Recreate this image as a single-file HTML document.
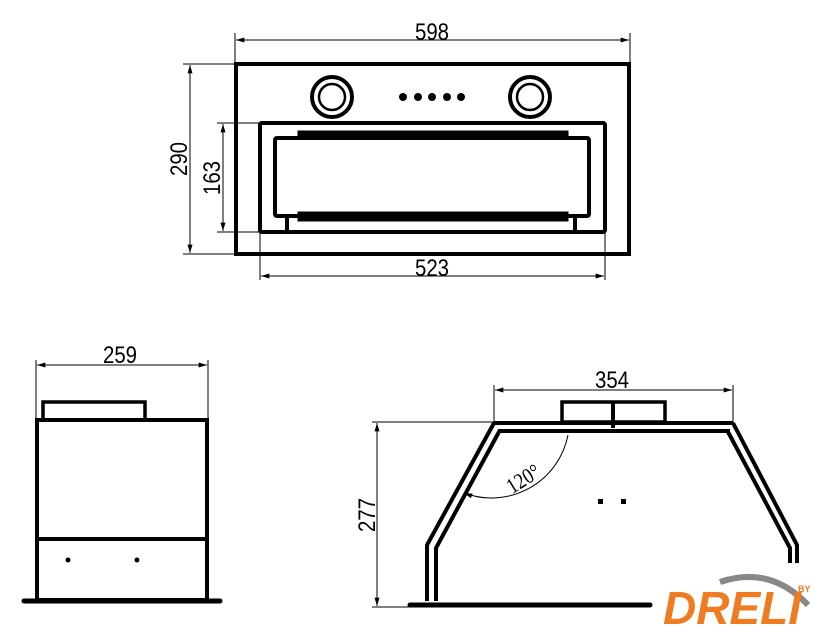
<!DOCTYPE html>
<html><head><style>
html,body{margin:0;padding:0;background:#fff;}
svg{display:block;}
text{font-family:"Liberation Sans",sans-serif;fill:#000;}
</style></head><body>
<svg width="840" height="638" viewBox="0 0 840 638" xmlns="http://www.w3.org/2000/svg">
<defs>
<marker id="a" viewBox="0 0 10 6" refX="10" refY="3" markerWidth="12" markerHeight="5" orient="auto-start-reverse" markerUnits="userSpaceOnUse"><path d="M0,0 L10,3 L0,6 z" fill="#000"/></marker>
</defs>
<g stroke="#000" fill="none">
<rect x="236" y="64" width="393" height="190" stroke-width="4"/>
<circle cx="332" cy="97" r="20" stroke-width="4"/><circle cx="332" cy="97" r="13" stroke-width="2.5"/>
<circle cx="530" cy="97" r="20" stroke-width="4"/><circle cx="530" cy="97" r="13" stroke-width="2.5"/>
<rect x="260" y="123" width="345" height="109" rx="2" stroke-width="4"/>
<rect x="275" y="138" width="314" height="78" rx="2" stroke-width="4"/>
<rect x="298" y="131" width="270" height="6" fill="#000" stroke-width="1"/>
<rect x="298" y="212" width="270" height="9" fill="#000" stroke-width="1"/>
<line x1="287" y1="216" x2="287" y2="230" stroke-width="4"/><line x1="575" y1="216" x2="575" y2="230" stroke-width="4"/>
<g stroke-width="1">
<line x1="235" y1="33" x2="235" y2="63"/><line x1="630" y1="33" x2="630" y2="63"/>
<line x1="236" y1="40" x2="629" y2="40" marker-start="url(#a)" marker-end="url(#a)"/>
<line x1="183" y1="64" x2="236" y2="64"/><line x1="183" y1="254" x2="236" y2="254"/>
<line x1="190" y1="65" x2="190" y2="253" marker-start="url(#a)" marker-end="url(#a)"/>
<line x1="217" y1="123" x2="260" y2="123"/><line x1="217" y1="232" x2="260" y2="232"/>
<line x1="223" y1="124" x2="223" y2="231" marker-start="url(#a)" marker-end="url(#a)"/>
<line x1="260" y1="233" x2="260" y2="280"/><line x1="605" y1="233" x2="605" y2="280"/>
<line x1="261" y1="276" x2="604" y2="276" marker-start="url(#a)" marker-end="url(#a)"/>
</g>
<rect x="43" y="402" width="102" height="18" stroke-width="3.5"/>
<rect x="37" y="420" width="170" height="180" stroke-width="4"/>
<line x1="37" y1="539" x2="207" y2="539" stroke-width="4"/>
<line x1="24" y1="601" x2="220" y2="601" stroke-width="5" stroke-linecap="round"/>
<g stroke-width="1">
<line x1="36" y1="360" x2="36" y2="420"/><line x1="208" y1="360" x2="208" y2="420"/>
<line x1="37" y1="365" x2="207" y2="365" marker-start="url(#a)" marker-end="url(#a)"/>
</g>
<rect x="562" y="402" width="103" height="20" stroke-width="3.5"/>
<line x1="613" y1="402" x2="613" y2="428" stroke-width="4"/>
<line x1="494" y1="423" x2="733" y2="423" stroke-width="4"/>
<line x1="498" y1="431" x2="730" y2="431" stroke-width="4"/>
<path d="M494,423 L427,545 L427,601" stroke-width="4"/>
<path d="M500,430 L436,548 L436,601" stroke-width="4"/>
<path d="M733,423 L797,545 L797,563" stroke-width="4"/>
<path d="M727,430 L790,548 L790,563" stroke-width="4"/>
<line x1="410" y1="605" x2="650" y2="605" stroke-width="5" stroke-linecap="round"/>
<g stroke-width="1">
<line x1="494" y1="385" x2="494" y2="423"/><line x1="733" y1="385" x2="733" y2="423"/>
<line x1="495" y1="390" x2="732" y2="390" marker-start="url(#a)" marker-end="url(#a)"/>
<line x1="372" y1="422" x2="494" y2="422"/><line x1="372" y1="607" x2="410" y2="607"/>
<line x1="377" y1="423" x2="377" y2="606" marker-start="url(#a)" marker-end="url(#a)"/>
<path d="M568,435 A78,78 0 0 1 464,493" marker-end="url(#a)"/>
</g>
</g>
<g fill="#000">
<circle cx="403" cy="97" r="4"/><circle cx="418" cy="97" r="4"/><circle cx="432" cy="97" r="4"/><circle cx="447" cy="97" r="4"/><circle cx="461" cy="97" r="4"/>
<circle cx="68" cy="560" r="2.5"/><circle cx="137" cy="560" r="2.5"/>
<rect x="598" y="499" width="5" height="5"/><rect x="621" y="499" width="5" height="5"/>
</g>
<g font-size="24" text-anchor="middle">
<text transform="translate(432,40) scale(0.85,1)">598</text>
<text transform="translate(432,276) scale(0.85,1)">523</text>
<text transform="translate(187,159) rotate(-90) scale(0.85,1)">290</text>
<text transform="translate(220,178) rotate(-90) scale(0.85,1)">163</text>
<text transform="translate(120,363) scale(0.85,1)">259</text>
<text transform="translate(612,388) scale(0.85,1)">354</text>
<text transform="translate(375,515) rotate(-90) scale(0.85,1)">277</text>
<text transform="translate(527,485) rotate(-32) scale(0.85,1)" font-size="22" style="font-family:'Liberation Serif',serif">120°</text>
</g>
<path d="M720,582 Q770,565 808,605" stroke="#888" stroke-width="6" fill="none"/>
<text x="663" y="624" font-weight="bold" font-style="italic" font-size="46" style="fill:#f07c22;font-family:'Liberation Sans',sans-serif">DRELI</text>
<text x="798" y="592" font-weight="bold" font-size="9" style="fill:#f07c22">BY</text>
</svg>
</body></html>
